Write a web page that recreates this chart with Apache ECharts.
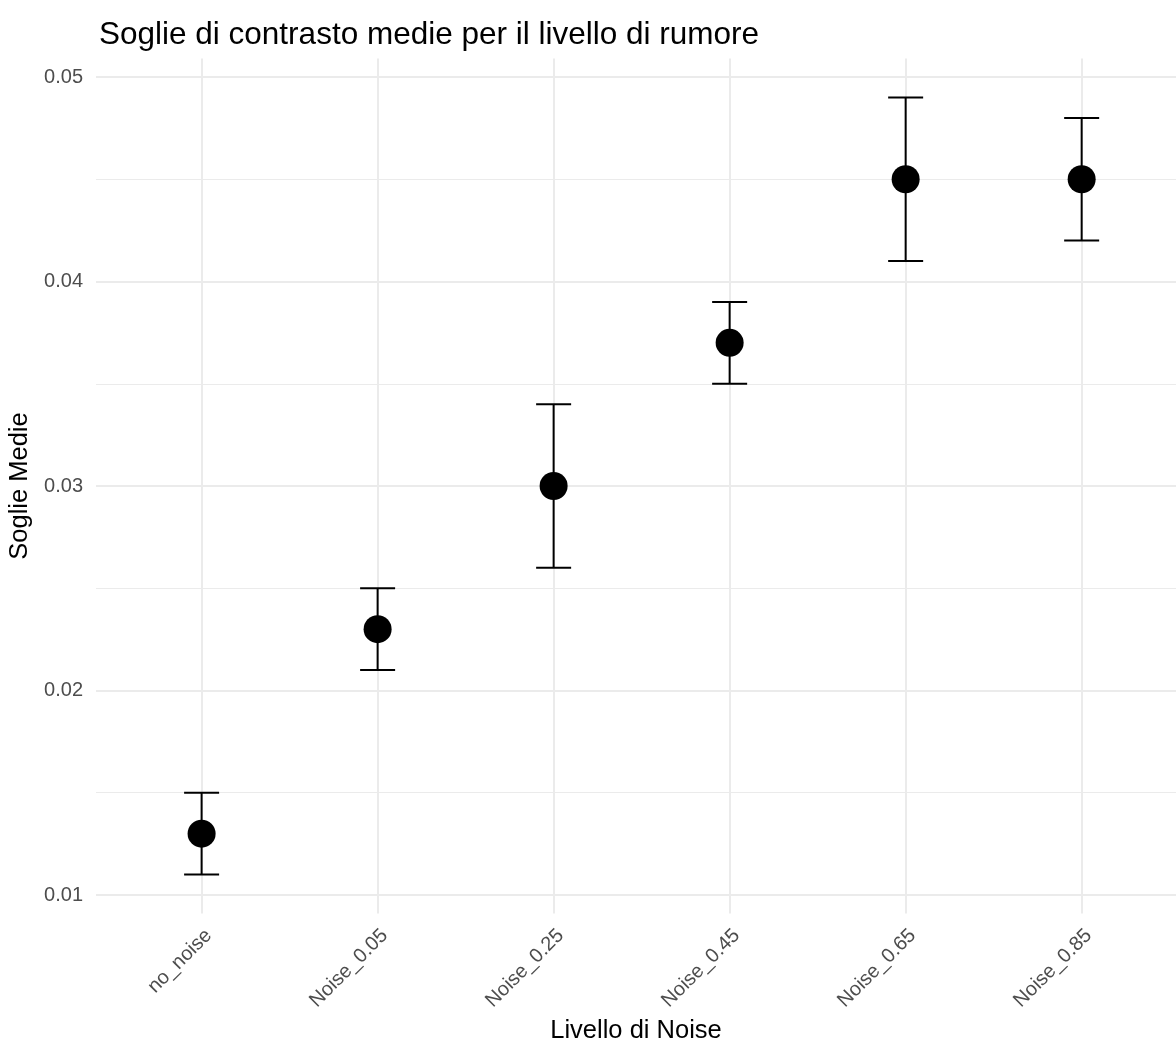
<!DOCTYPE html>
<html>
<head>
<meta charset="utf-8">
<title>Soglie di contrasto medie per il livello di rumore</title>
<script src="https://cdn.jsdelivr.net/npm/echarts@6/dist/echarts.min.js"></script>
<style>
  html, body { margin: 0; padding: 0; background: #ffffff; }
  #chart { width: 1176px; height: 1044px; }
</style>
</head>
<body>
<div id="chart"></div>
<script>
// Noise levels on the x axis
const categories = ['no_noise', 'Noise_0.05', 'Noise_0.25', 'Noise_0.45', 'Noise_0.65', 'Noise_0.85'];
// Mean contrast thresholds and their error-bar limits
const means = [0.013, 0.023, 0.030, 0.037, 0.045, 0.045];
const lower = [0.011, 0.021, 0.026, 0.035, 0.041, 0.042];
const upper = [0.015, 0.025, 0.034, 0.039, 0.049, 0.048];
// Y tick values (major and minor grid)
const yMajor = [0.01, 0.02, 0.03, 0.04, 0.05];
const yMinor = [0.015, 0.025, 0.035, 0.045];

const positions = categories.map((c, i) => i + 1);
const pointData = means.map((m, i) => [positions[i], m]);
const barData = lower.map((lo, i) => [positions[i], lo, upper[i]]);

const FONT = 'Liberation Sans, Arial, Helvetica, sans-serif';
const chart = echarts.init(document.getElementById('chart'), null, { renderer: 'canvas' });

chart.setOption({
  backgroundColor: '#ffffff',
  animation: false,
  title: {
    text: 'Soglie di contrasto medie per il livello di rumore',
    left: 94,
    top: 14,
    textStyle: { fontFamily: FONT, fontSize: 31.5, fontWeight: 'normal', color: '#000000' }
  },
  grid: {
    left: 96, right: 0, top: 58.6, bottom: 130.6,
    containLabel: false,
    outerBoundsMode: 'none'
  },
  xAxis: {
    type: 'value',
    min: 0.4,
    max: 6.536,
    name: 'Livello di Noise',
    nameLocation: 'middle',
    nameGap: 104,
    nameTextStyle: { fontFamily: FONT, fontSize: 25.5, color: '#000000' },
    axisLine: { show: false },
    axisTick: { show: false, customValues: positions },
    axisLabel: {
      customValues: positions,
      rotate: 45,
      margin: 12,
      verticalAlign: 'top',
      fontFamily: FONT,
      fontSize: 20,
      color: '#4D4D4D',
      formatter: v => categories[Math.round(v) - 1]
    },
    splitLine: { show: true, lineStyle: { color: '#EBEBEB', width: 2 } }
  },
  yAxis: [
    {
      type: 'value',
      min: 0.0091,
      max: 0.0509,
      name: 'Soglie Medie',
      nameLocation: 'middle',
      nameGap: 58,
      nameTextStyle: { fontFamily: FONT, fontSize: 25.5, color: '#000000' },
      axisLine: { show: false },
      axisTick: { show: false, customValues: yMajor },
      axisLabel: {
        customValues: yMajor,
        margin: 13,
        fontFamily: FONT,
        fontSize: 20,
        color: '#4D4D4D',
        formatter: v => v.toFixed(2)
      },
      splitLine: { show: true, lineStyle: { color: '#EBEBEB', width: 2 } }
    },
    {
      type: 'value',
      min: 0.0091,
      max: 0.0509,
      position: 'left',
      axisLine: { show: false },
      axisTick: { show: false, customValues: yMinor },
      axisLabel: { show: false, customValues: yMinor },
      splitLine: { show: true, lineStyle: { color: '#EBEBEB', width: 1 } }
    }
  ],
  series: [
    {
      type: 'custom',
      name: 'errorbar',
      xAxisIndex: 0,
      yAxisIndex: 0,
      data: barData,
      z: 2,
      renderItem: function (params, api) {
        const x = api.value(0);
        const lo = api.coord([x, api.value(1)]);
        const hi = api.coord([x, api.value(2)]);
        const half = 17.5;
        const style = { stroke: '#000000', lineWidth: 2 };
        return {
          type: 'group',
          children: [
            { type: 'line', shape: { x1: lo[0], y1: lo[1], x2: hi[0], y2: hi[1] }, style },
            { type: 'line', shape: { x1: hi[0] - half, y1: hi[1], x2: hi[0] + half, y2: hi[1] }, style },
            { type: 'line', shape: { x1: lo[0] - half, y1: lo[1], x2: lo[0] + half, y2: lo[1] }, style }
          ]
        };
      }
    },
    {
      type: 'scatter',
      name: 'media',
      xAxisIndex: 0,
      yAxisIndex: 0,
      data: pointData,
      symbol: 'circle',
      symbolSize: 28,
      itemStyle: { color: '#000000', opacity: 1 },
      z: 3
    }
  ]
});
</script>
</body>
</html>
